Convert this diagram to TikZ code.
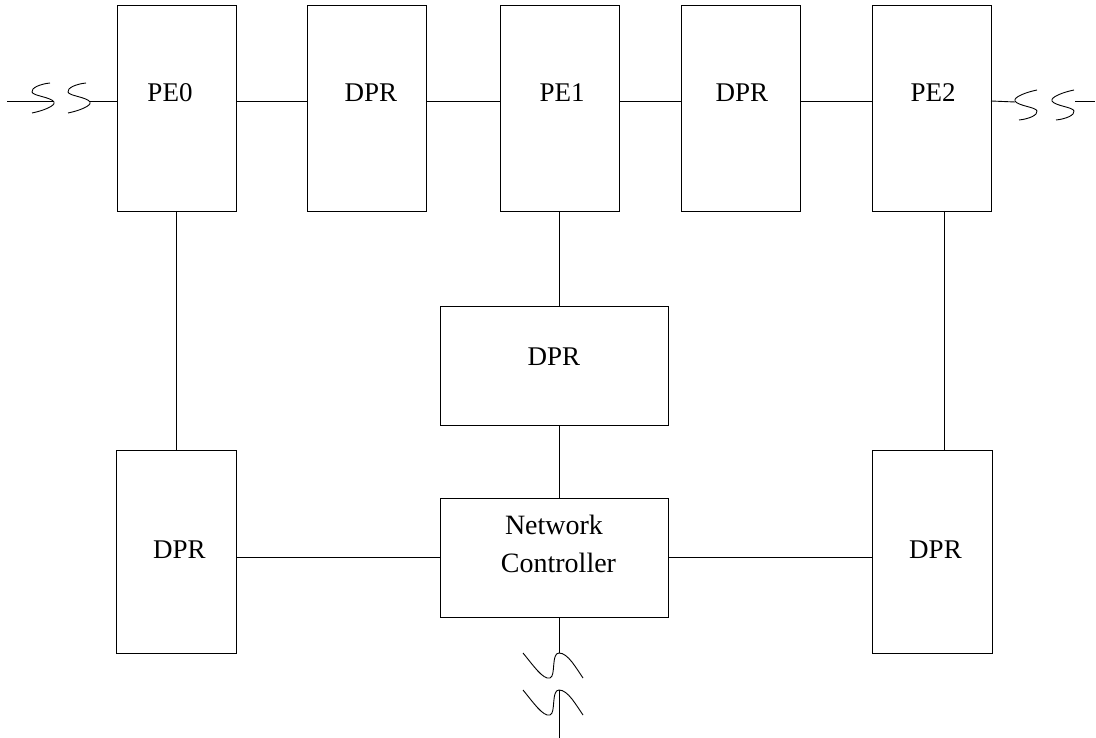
\documentclass[tikz,border=0pt]{standalone}
\usepackage{fontspec}
\setmainfont{Liberation Serif}
\begin{document}
\begin{tikzpicture}[x=1pt,y=-1pt,line width=0.9pt,
  box/.style={draw,rectangle,inner sep=0pt,outer sep=0pt,line width=0.9pt},
  tall/.style={box,minimum width=119pt,minimum height=206pt},
  low/.style={box,minimum width=120pt,minimum height=203pt},
  wide/.style={box,minimum width=228pt,minimum height=119pt},
  lbl/.style={anchor=base,inner sep=0pt,font=\fontsize{27}{32}\selectfont},
  ncl/.style={anchor=base,inner sep=0pt,font=\fontsize{28}{34}\selectfont},
  brk/.pic={\draw (-4,-18) .. controls (-14,-17) and (-23,-13) .. (-22,-9) .. controls (-21,-5) and (-3,-4) .. (0,1) .. controls (2,5) and (-12,10) .. (-22,12);},
  vbrk/.pic={\draw (-36,0) .. controls (-26,12) and (-16,27) .. (-9,25) .. controls (-3,23) and (-8,0) .. (0,0) .. controls (9,0) and (17,15) .. (24,25);}]
\useasboundingbox (0,0) rectangle (1096,738);
% boxes
\node[tall] (PE0) at (176.5,108) {};
\node[tall] (DPRa) at (366.5,108) {};
\node[tall] (PE1) at (559.5,108) {};
\node[tall] (DPRb) at (740.5,108) {};
\node[tall] (PE2) at (931.5,108) {};
\node[wide] (DPRm) at (554,365.5) {};
\node[wide] (NC) at (554,557.5) {};
\node[low] (BL) at (176,551.5) {};
\node[low] (BR) at (932,551.5) {};
% labels
\node[lbl] (tPE0) at (170,102) {PE0};
\node[lbl] (tDPRa) at (371,102) {DPR};
\node[lbl] (tPE1) at (562,102) {PE1};
\node[lbl] (tDPRb) at (742,102) {DPR};
\node[lbl] (tPE2) at (933,102) {PE2};
\node[lbl] (tDPRm) at (554,366) {DPR};
\node[lbl] (tBL) at (179.5,558) {DPR};
\node[lbl] (tBR) at (935.5,558) {DPR};
\node[ncl] (tNC1) at (554,534) {Network};
\node[ncl] (tNC2) at (558.5,572) {Controller};
% helper coordinates
\coordinate (hy) at (0,101);
\coordinate (vx) at (559,0);
\coordinate (vr) at (944,0);
% top row connectors
\draw (PE0.east |- hy) -- (DPRa.west |- hy);
\draw (DPRa.east |- hy) -- (PE1.west |- hy);
\draw (PE1.east |- hy) -- (DPRb.west |- hy);
\draw (DPRb.east |- hy) -- (PE2.west |- hy);
% verticals
\draw (PE0.south) -- (PE0.south |- BL.north);
\draw (vx |- PE1.south) -- (vx |- DPRm.north);
\draw (vx |- DPRm.south) -- (vx |- NC.north);
\draw (vr |- PE2.south) -- (vr |- BR.north);
% bottom horizontals
\draw (NC.west) -- (NC.west -| BL.east);
\draw (NC.east) -- (NC.east -| BR.west);
% left break
\coordinate (lA) at (7,101);
\coordinate (lJ1) at (54,101);
\coordinate (lJ2) at (90,101);
\draw (lA) -- (lJ1);
\draw (lJ2) -- (PE0.west |- hy);
\pic at (lJ1) {brk};
\pic at (lJ2) {brk};
% right break
\coordinate (rJ1) at (1015,102);
\coordinate (rJ2) at (1052,102);
\coordinate (rB) at (1075,101);
\coordinate (rE) at (1095,101);
\draw (PE2.east |- hy) -- (rJ1);
\draw (rB) -- (rE);
\pic[rotate=180] at (rJ1) {brk};
\pic[rotate=180] at (rJ2) {brk};
% bottom break
\coordinate (bP1) at (559,653);
\coordinate (bP2) at (559,690);
\coordinate (bE) at (559,738);
\draw (vx |- NC.south) -- (bP1);
\pic at (bP1) {vbrk};
\pic at (bP2) {vbrk};
\draw (bP2) -- (bE);
\end{tikzpicture}
\end{document}
